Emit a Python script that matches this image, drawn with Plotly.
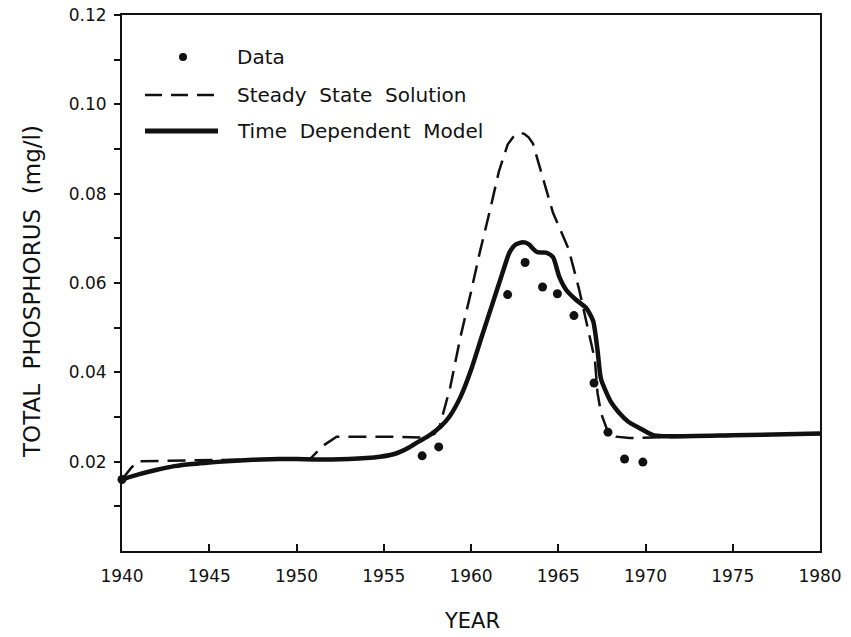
import plotly.graph_objects as go

# Observed total phosphorus (mg/l)
data_year = [1940.0, 1957.2, 1958.15, 1962.1, 1963.1, 1964.1, 1964.95, 1965.9,
             1967.05, 1967.85, 1968.8, 1969.85]
data_tp = [0.0160, 0.0213, 0.0233, 0.0574, 0.0646, 0.0591, 0.0576, 0.0527,
           0.0376, 0.0266, 0.0206, 0.0199]

# Steady state solution
ss_year = [1940.0, 1940.5, 1940.9, 1943.0, 1945.0, 1948.0, 1950.8, 1951.5, 1952.3,
           1955.0, 1957.3, 1957.9, 1958.2, 1958.8, 1959.4, 1960.0, 1960.5, 1961.1,
           1961.6, 1962.1, 1962.4, 1962.65, 1962.85, 1963.05, 1963.3, 1963.55,
           1964.1, 1964.7, 1965.2, 1965.6, 1966.2, 1966.6, 1967.1, 1967.25,
           1967.45, 1967.85, 1968.3, 1969.1, 1970.0, 1975.0, 1980.0]
ss_tp = [0.0160, 0.0185, 0.0201, 0.0202, 0.0203, 0.0205, 0.0207, 0.0235, 0.0256,
         0.0256, 0.0254, 0.0262, 0.0279, 0.0365, 0.0480, 0.0580, 0.0668, 0.0765,
         0.0850, 0.0910, 0.0926, 0.0934, 0.0936, 0.0934, 0.0926, 0.0912,
         0.0839, 0.0757, 0.0712, 0.0675, 0.0585, 0.0518, 0.0428, 0.0354,
         0.0309, 0.0266, 0.0256, 0.0253, 0.0254, 0.0258, 0.0262]

# Time dependent model
td_year = [1940.0, 1941.0, 1942.0, 1943.0, 1944.0, 1945.0, 1946.0, 1947.0, 1948.0,
           1949.0, 1950.0, 1951.0, 1952.0, 1953.0, 1954.0, 1954.8, 1955.5, 1956.0,
           1956.5, 1957.0, 1957.5, 1957.9, 1958.3, 1958.8, 1959.4, 1960.0, 1960.6,
           1961.2, 1961.8, 1962.2, 1962.55, 1962.97, 1963.3, 1963.55, 1963.8,
           1964.3, 1964.7, 1965.05, 1965.45, 1966.0, 1966.6, 1967.0, 1967.25,
           1967.45, 1968.0, 1968.5, 1969.0, 1969.66, 1970.4, 1971.0, 1975.0, 1980.0]
td_tp = [0.0160, 0.0172, 0.0182, 0.0190, 0.0195, 0.0198, 0.0201, 0.0203, 0.0205,
         0.0206, 0.0206, 0.0205, 0.0205, 0.0206, 0.0208, 0.0211, 0.0216, 0.0223,
         0.0233, 0.0245, 0.0256, 0.0267, 0.0280, 0.0303, 0.0345, 0.0405, 0.0478,
         0.0550, 0.0622, 0.0668, 0.0686, 0.0691, 0.0687, 0.0677, 0.0669,
         0.0668, 0.0658, 0.0615, 0.0585, 0.0563, 0.0544, 0.0515, 0.0450,
         0.0385, 0.0335, 0.0309, 0.0290, 0.0275, 0.0260, 0.0257, 0.0259, 0.0263]

x_ticks = [1940, 1945, 1950, 1955, 1960, 1965, 1970, 1975, 1980]
y_ticks = [0.02, 0.04, 0.06, 0.08, 0.10, 0.12]
y_minor = [0.01, 0.03, 0.05, 0.07, 0.09, 0.11]
y_ticktext = ["0.02", "0.04", "0.06", "0.08", "0.10", "0.12"]

INK = "#111111"
FONT = "DejaVu Sans"
W, H = 851, 637
ML, MR, MT, MB = 122, 31, 15, 86
PW, PH = W - ML - MR, H - MT - MB


def px(xp):
    return (xp - ML) / PW


def py(yp):
    return (H - MB - yp) / PH


fig = go.Figure()
fig.add_trace(go.Scatter(x=ss_year, y=ss_tp, mode="lines",
                         line=dict(color=INK, width=2.5, dash="18px,9px"),
                         showlegend=False))
fig.add_trace(go.Scatter(x=td_year, y=td_tp, mode="lines", line_shape="spline",
                         line=dict(color=INK, width=4.5, smoothing=0.6),
                         showlegend=False))
fig.add_trace(go.Scatter(x=data_year, y=data_tp, mode="markers",
                         marker=dict(color=INK, size=9), cliponaxis=False,
                         showlegend=False))

# key
shapes = [
    dict(type="circle", xref="paper", yref="paper",
         x0=px(179), x1=px(187), y0=py(61), y1=py(53),
         fillcolor=INK, line=dict(width=0)),
    dict(type="line", xref="paper", yref="paper",
         x0=px(145), x1=px(217), y0=py(95), y1=py(95),
         line=dict(color=INK, width=2.5, dash="17px,9px")),
    dict(type="line", xref="paper", yref="paper",
         x0=px(145), x1=px(218), y0=py(131), y1=py(131),
         line=dict(color=INK, width=5)),
]
key_text = [("Data", 57), ("Steady  State  Solution", 95), ("Time  Dependent  Model", 131)]
annotations = [
    dict(text=t, xref="paper", yref="paper", x=px(235), y=py(yy),
         xanchor="left", yanchor="middle", showarrow=False,
         font=dict(family=FONT, size=20, color=INK))
    for t, yy in key_text
]
annotations.append(dict(text="TOTAL  PHOSPHORUS  (mg/l)", xref="paper", yref="paper",
                        x=px(32), y=py(292), textangle=-90, showarrow=False,
                        xanchor="center", yanchor="middle",
                        font=dict(family=FONT, size=23, color=INK)))
annotations.append(dict(text="YEAR", xref="paper", yref="paper",
                        x=px(472), y=py(621), showarrow=False,
                        xanchor="center", yanchor="middle",
                        font=dict(family=FONT, size=21, color=INK)))

fig.update_layout(
    width=W, height=H,
    margin=dict(l=ML, r=MR, t=MT, b=MB, autoexpand=False),
    paper_bgcolor="white", plot_bgcolor="white",
    shapes=shapes, annotations=annotations,
    font=dict(family=FONT, color=INK, size=17),
    xaxis=dict(range=[1940, 1980], tickvals=x_ticks, ticks="inside", ticklen=7,
               tickwidth=1.5, tickcolor=INK, showline=True, linecolor=INK,
               linewidth=2, mirror=True, showgrid=False, zeroline=False,
               automargin=False, ticklabelstandoff=9, tickfont=dict(size=17)),
    yaxis=dict(range=[0, 0.12], tickvals=y_ticks, ticktext=y_ticktext,
               ticks="outside", ticklen=6, tickwidth=1.5, tickcolor=INK,
               minor=dict(tickvals=y_minor, ticks="outside", ticklen=6,
                          tickwidth=1.5, tickcolor=INK, showgrid=False),
               showline=True, linecolor=INK, linewidth=2, mirror=True,
               showgrid=False, zeroline=False, automargin=False,
               ticklabelstandoff=4, tickfont=dict(size=17)),
)

fig.write_html("out.html")
